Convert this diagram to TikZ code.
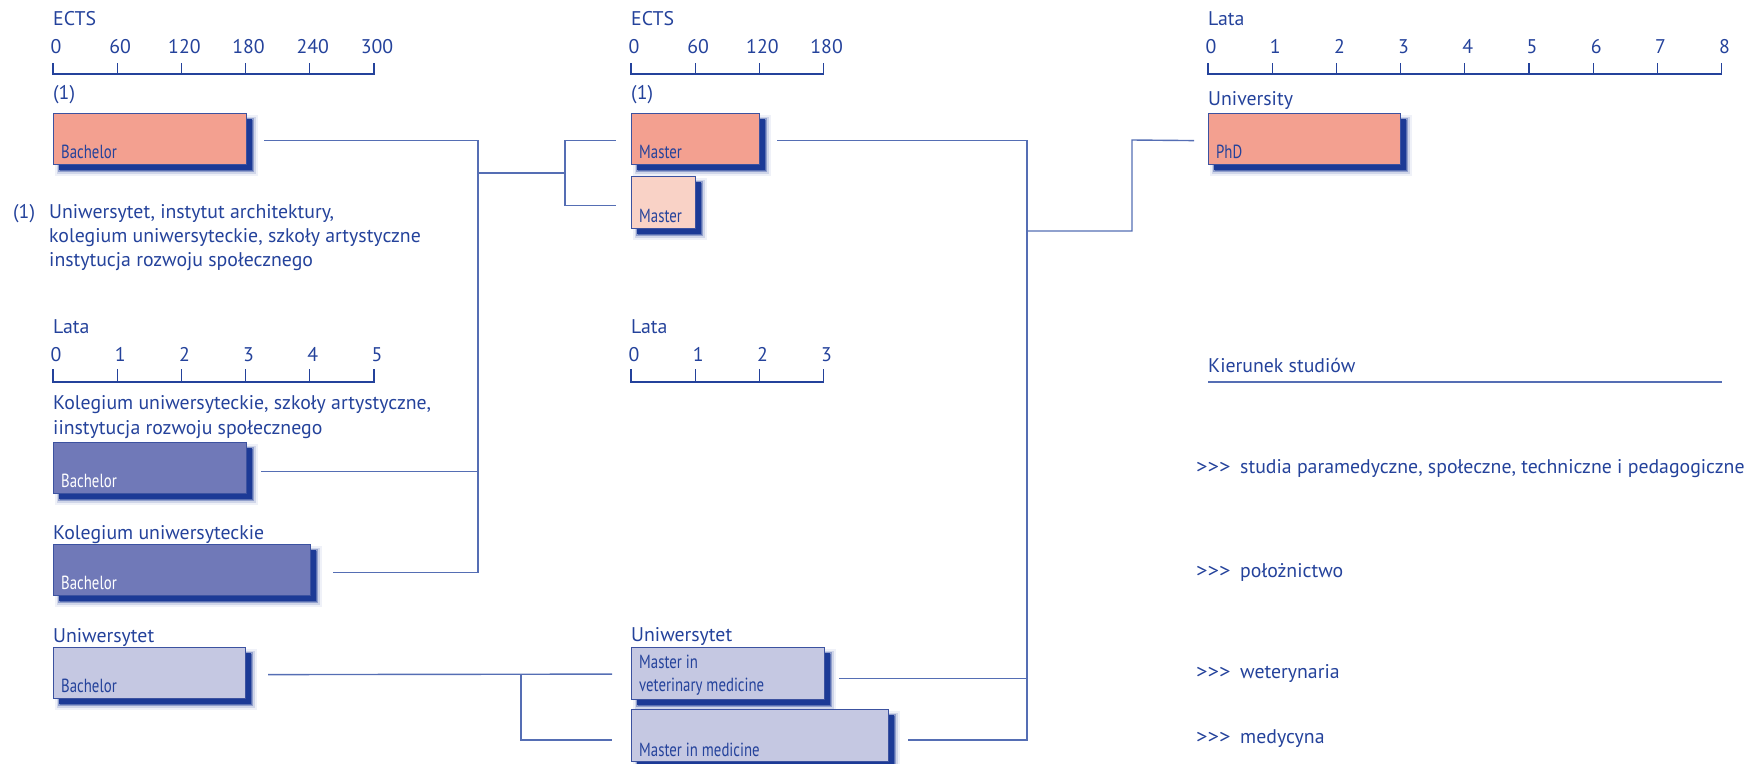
\documentclass[tikz,border=0pt]{standalone}
\usepackage{fontspec}
\setmainfont{PT Sans}
\newfontfamily\condfont[FakeStretch=0.78]{PT Sans}
\usetikzlibrary{shadows}
\definecolor{tblue}{RGB}{36,66,155}
\definecolor{lblue}{RGB}{85,110,180}
\definecolor{salmon}{RGB}{243,160,144}
\definecolor{peach}{RGB}{249,210,198}
\definecolor{purp}{RGB}{112,121,184}
\definecolor{lav}{RGB}{197,200,226}
\definecolor{bord}{RGB}{60,82,160}
\definecolor{shc}{RGB}{28,58,150}
\begin{document}
\begin{tikzpicture}[x=1pt,y=-1pt,
  txt/.style={anchor=base west, inner sep=0pt, text=tblue, font=\fontsize{19.8}{24}\selectfont},
  ticklab/.style={anchor=base, inner sep=0pt, text=tblue, font=\fontsize{19.8}{24}\selectfont},
  axis/.style={draw=tblue, line width=1.3pt},
  conn/.style={draw=lblue, line width=1.4pt},
  box/.style={draw=bord, line width=1.2pt, anchor=north west, minimum height=51pt, inner sep=0pt, rectangle,
     general shadow={fill=shc, draw=shc, line width=10pt, opacity=0.07, shadow xshift=6pt, shadow yshift=-6pt},
     general shadow={fill=shc, draw=shc, line width=6pt, opacity=0.15, shadow xshift=6pt, shadow yshift=-6pt},
     general shadow={fill=shc, draw=shc, line width=3pt, opacity=0.35, shadow xshift=6pt, shadow yshift=-6pt},
     general shadow={fill=shc, shadow xshift=5pt, shadow yshift=-5pt}},
  boxlab/.style={anchor=base west, inner sep=0pt, xshift=8pt, yshift=7pt, font=\condfont\fontsize{19}{22}\selectfont, text=tblue},
  wlab/.style={boxlab, text=white},
]
\useasboundingbox (0,0) rectangle (1764,763);

% ---------- axes ----------
% left ECTS
\node[txt] (ects1) at (53,25) {ECTS};
\draw[axis] (53,63) -- (53,74) -- (374,74) -- (374,63);
\foreach \i in {1,...,4} \draw[axis] (53+64.2*\i,63) -- (53+64.2*\i,74);
\foreach \v [count=\i from 0] in {0,60,120,180,240,300} \node[ticklab] (le\i) at (56+64.2*\i,53) {\v};
% middle ECTS
\node[txt] (ects2) at (631,25) {ECTS};
\draw[axis] (631,63) -- (631,74) -- (823.6,74) -- (823.6,63);
\foreach \i in {1,2} \draw[axis] (631+64.2*\i,63) -- (631+64.2*\i,74);
\foreach \v [count=\i from 0] in {0,60,120,180} \node[ticklab] (me\i) at (634+64.2*\i,53) {\v};
% right Lata
\node[txt] (lata3) at (1208,25) {Lata};
\draw[axis] (1208,63) -- (1208,74) -- (1721.6,74) -- (1721.6,63);
\foreach \i in {1,...,7} \draw[axis] (1208+64.2*\i,63) -- (1208+64.2*\i,74);
\foreach \v [count=\i from 0] in {0,...,8} \node[ticklab] (rl\i) at (1211+64.2*\i,53) {\v};
% left Lata
\node[txt] (lata1) at (53,333) {Lata};
\draw[axis] (53,369) -- (53,382) -- (374,382) -- (374,369);
\foreach \i in {1,...,4} \draw[axis] (53+64.2*\i,369) -- (53+64.2*\i,382);
\foreach \v [count=\i from 0] in {0,...,5} \node[ticklab] (ll\i) at (56+64.2*\i,361) {\v};
% middle Lata
\node[txt] (lata2) at (631,333) {Lata};
\draw[axis] (631,369) -- (631,382) -- (823.6,382) -- (823.6,369);
\foreach \i in {1,2} \draw[axis] (631+64.2*\i,369) -- (631+64.2*\i,382);
\foreach \v [count=\i from 0] in {0,...,3} \node[ticklab] (ml\i) at (634+64.2*\i,361) {\v};

% ---------- texts ----------
\node[txt] (n1a) at (53,99) {(1)};
\node[txt] (n1b) at (631,99) {(1)};
\node[txt] (fn0) at (13,218) {(1)};
\node[txt] (fn1) at (49,218) {Uniwersytet, instytut architektury,};
\node[txt] (fn2) at (49,242) {kolegium uniwersyteckie, szkoły artystyczne};
\node[txt] (fn3) at (49,266) {instytucja rozwoju społecznego};
\node[txt] (k1) at (53,409) {Kolegium uniwersyteckie, szkoły artystyczne,};
\node[txt] (k2) at (53,434) {iinstytucja rozwoju społecznego};
\node[txt] (k3) at (53,539) {Kolegium uniwersyteckie};
\node[txt] (u1) at (53,642) {Uniwersytet};
\node[txt] (u2) at (631,641) {Uniwersytet};
\node[txt] (univ) at (1208,105) {University};
\node[txt] (kier) at (1208,372) {Kierunek studiów};
\draw[conn] (1208,382) -- (1721.6,382);
\foreach \t/\y [count=\i] in {{studia paramedyczne, społeczne, techniczne i pedagogiczne}/473,{położnictwo}/577,{weterynaria}/678,{medycyna}/743}{
  \node[txt] (ar\i) at (1196,\y) {\scalebox{1.15}[1]{>{}>{}>}};
  \node[txt] (tx\i) at (1240,\y) {\t};
}

% ---------- boxes ----------
\node[box, fill=salmon, minimum width=193pt, label={[boxlab]south west:Bachelor}] (b1) at (53,113) {};
\node[box, fill=salmon, minimum width=128pt, label={[boxlab]south west:Master}] (m1) at (631,113) {};
\node[box, fill=peach, minimum width=64pt, minimum height=52pt, label={[boxlab]south west:Master}] (m2) at (631,176) {};
\node[box, fill=salmon, minimum width=192pt, label={[boxlab]south west:PhD}] (phd) at (1208,113) {};
\node[box, fill=purp, minimum width=193pt, label={[wlab]south west:Bachelor}] (b2) at (53,442) {};
\node[box, fill=purp, minimum width=257pt, label={[wlab]south west:Bachelor}] (b3) at (53,544) {};
\node[box, fill=lav, minimum width=192pt, label={[boxlab]south west:Bachelor}] (b4) at (53,647) {};
\node[box, fill=lav, minimum width=193pt, minimum height=52pt,
      label={[boxlab, yshift=2pt]south west:veterinary medicine},
      label={[boxlab, yshift=25pt]south west:Master in}] (vet) at (631,647) {};
\node[box, fill=lav, minimum width=257pt, minimum height=52pt, label={[boxlab, yshift=-1pt]south west:Master in medicine}] (med) at (631,709) {};

% ---------- connectors ----------
\coordinate (L) at (478,173);
\coordinate (M) at (565,173);
\coordinate (B) at (521,674);
\coordinate (R) at (1027,231);
\coordinate (P) at (1132,140);
\draw[conn] ([xshift=17pt,yshift=-1.5pt]b1.east) -| (L);
\draw[conn] ([xshift=14pt,yshift=-3.5pt]b2.east) -| (L);
\draw[conn] ([xshift=22pt,yshift=-2.5pt]b3.east) -| (L);
\draw[conn] (L) -- (M);
\draw[conn] (M) |- ([xshift=-15pt,yshift=-1.5pt]m1.west);
\draw[conn] (M) |- ([xshift=-15pt,yshift=-3pt]m2.west);
\draw[conn] ([xshift=22pt,yshift=-1.5pt]b4.east) -- ([xshift=-19pt,yshift=-0.5pt]vet.west);
\draw[conn] (B) |- ([xshift=-19pt,yshift=-4.5pt]med.west);
\draw[conn] ([xshift=17pt,yshift=-1.5pt]m1.east) -| (R);
\draw[conn] ([xshift=14pt,yshift=-5pt]vet.east) -| (R);
\draw[conn] ([xshift=19pt,yshift=-4.5pt]med.east) -| (R);
\draw[conn] (R) -| (P) -- ([xshift=-14pt,yshift=-1.5pt]phd.west);
\end{tikzpicture}
\end{document}
